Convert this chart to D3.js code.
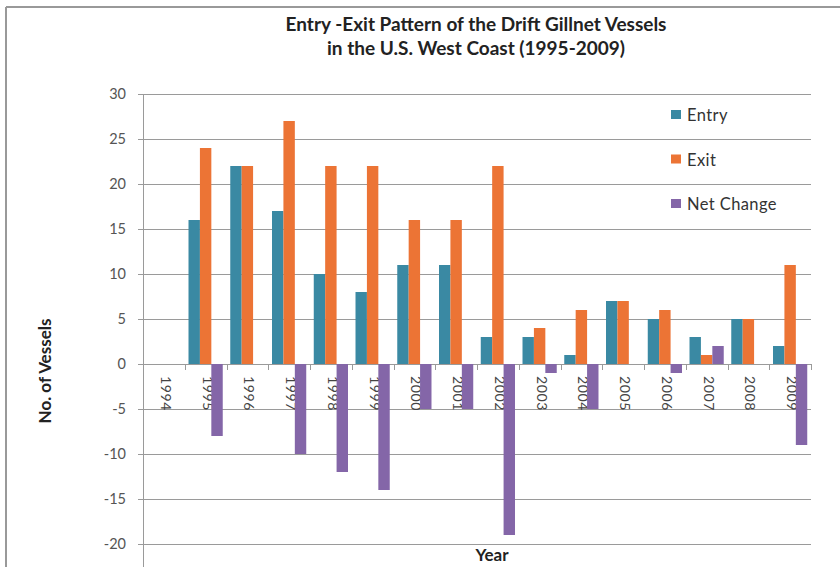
<!DOCTYPE html>
<html>
<head>
<meta charset="utf-8">
<script src="https://cdn.jsdelivr.net/npm/d3@7"></script>
<style>
  body { margin: 0; background: #fff; }
  text { font-family: Lato, "Open Sans", sans-serif; }
</style>
</head>
<body>
<script>
// chart values
var years    = ['1994','1995','1996','1997','1998','1999','2000','2001','2002','2003','2004','2005','2006','2007','2008','2009'];
var entry    = [null, 16, 22, 17, 10, 8, 11, 11, 3, 3, 1, 7, 5, 3, 5, 2];
var exit     = [null, 24, 22, 27, 22, 22, 16, 16, 22, 4, 6, 7, 6, 1, 5, 11];
var net      = [null, -8, 0, -10, -12, -14, -5, -5, -19, -1, -5, 0, -1, 2, 0, -9];
var series   = ['Entry', 'Exit', 'Net Change'];
var yTicks   = [30, 25, 20, 15, 10, 5, 0, -5, -10, -15, -20];
var colors   = ['#3a89a3', '#ec7435', '#8466a8'];

var width = 840, height = 567;
// plot area (note: "top" is reserved on window, so pTop etc.)
var pLeft = 143, pRight = 811, pTop = 94, pBottom = 544;

var values = [entry, exit, net];

var svg = d3.select('body').append('svg')
	.attr('width', width)
	.attr('height', height);

// frame (top and left only, as in the scan)
svg.append('line').attr('x1', 6).attr('x2', width).attr('y1', 7).attr('y2', 7)
	.attr('stroke', '#999').attr('stroke-width', 2);
svg.append('line').attr('x1', 6).attr('x2', 6).attr('y1', 7).attr('y2', height)
	.attr('stroke', '#999').attr('stroke-width', 2);

var y = d3.scaleLinear()
	.domain([-20, 30])
	.range([pBottom, pTop]);

var x = d3.scaleBand()
	.domain(years)
	.range([pLeft, pRight])
	.paddingInner(0.18)
	.paddingOuter(0.09);

var xs = d3.scaleBand()
	.domain(series)
	.range([0, x.bandwidth()]);

// gridlines + ticks
svg.append('g').selectAll('line')
	.data(yTicks)
	.enter().append('line')
		.attr('x1', pLeft - 5)
		.attr('x2', pRight)
		.attr('y1', function(d) { return Math.round(y(d)) + 0.5; })
		.attr('y2', function(d) { return Math.round(y(d)) + 0.5; })
		.attr('stroke', '#9a9a9a')
		.attr('stroke-width', 1);

svg.append('g').selectAll('text')
	.data(yTicks)
	.enter().append('text')
		.attr('x', pLeft - 17)
		.attr('y', function(d) { return y(d) + 5; })
		.attr('text-anchor', 'end')
		.attr('fill', '#555')
		.style('font-size', '14.5px')
		.text(function(d) { return d; });

// y axis line
svg.append('line')
	.attr('x1', pLeft + 0.5).attr('x2', pLeft + 0.5)
	.attr('y1', pTop).attr('y2', height)
	.attr('stroke', '#9a9a9a');

// category ticks on the zero line
var step = x.step();
var x0 = x(years[0]) - x.paddingOuter() * step;
svg.append('g').selectAll('line')
	.data(d3.range(years.length + 1))
	.enter().append('line')
		.attr('x1', function(i) { return Math.round(x0 + i * step) + 0.5; })
		.attr('x2', function(i) { return Math.round(x0 + i * step) + 0.5; })
		.attr('y1', y(0))
		.attr('y2', y(0) + 6)
		.attr('stroke', '#9a9a9a');

// year labels, rotated
svg.append('g').selectAll('text')
	.data(years)
	.enter().append('text')
		.attr('transform', function(d) {
			return 'translate(' + (x(d) + x.bandwidth() / 2 - 3) + ',' + (y(0) + 12) + ') rotate(90)';
		})
		.attr('fill', '#444')
		.style('font-size', '14px')
		.style('letter-spacing', '0.6px')
		.text(function(d) { return d; });

// bars
var bars = [];
years.forEach(function(yr, i) {
	series.forEach(function(s, j) {
		if (values[j][i] !== null && values[j][i] !== 0) {
			bars.push({ year: yr, key: s, value: values[j][i], c: colors[j] });
		}
	});
});

svg.append('g').selectAll('rect')
	.data(bars)
	.enter().append('rect')
		.attr('x', function(d) { return x(d.year) + xs(d.key); })
		.attr('width', xs.bandwidth())
		.attr('y', function(d) { return y(Math.max(0, d.value)); })
		.attr('height', function(d) { return Math.abs(y(d.value) - y(0)); })
		.attr('fill', function(d) { return d.c; });

// title
svg.append('text')
	.attr('x', 476).attr('y', 31)
	.attr('text-anchor', 'middle')
	.attr('fill', '#222')
	.style('font-size', '19px').style('font-weight', 'bold')
	.text('Entry -Exit Pattern of the Drift Gillnet Vessels');
svg.append('text')
	.attr('x', 476).attr('y', 55)
	.attr('text-anchor', 'middle')
	.attr('fill', '#222')
	.style('font-size', '19px').style('font-weight', 'bold')
	.text('in the U.S. West Coast (1995-2009)');

// axis titles
svg.append('text')
	.attr('transform', 'translate(51,371) rotate(-90)')
	.attr('text-anchor', 'middle')
	.attr('fill', '#222')
	.style('font-size', '17px').style('font-weight', 'bold')
	.text('No. of Vessels');
svg.append('text')
	.attr('x', 492).attr('y', 561)
	.attr('text-anchor', 'middle')
	.attr('fill', '#222')
	.style('font-size', '17px').style('font-weight', 'bold')
	.text('Year');

// legend
var legend = svg.append('g').selectAll('g')
	.data(series)
	.enter().append('g')
		.attr('transform', function(d, i) { return 'translate(671,' + (110 + i * 44.5) + ')'; });
legend.append('rect')
	.attr('width', 10).attr('height', 9)
	.attr('fill', function(d, i) { return colors[i]; });
legend.append('text')
	.attr('x', 16).attr('y', 11)
	.attr('fill', '#333')
	.style('font-size', '16.5px')
	.style('letter-spacing', '0.4px')
	.text(function(d) { return d; });
</script>
</body>
</html>
